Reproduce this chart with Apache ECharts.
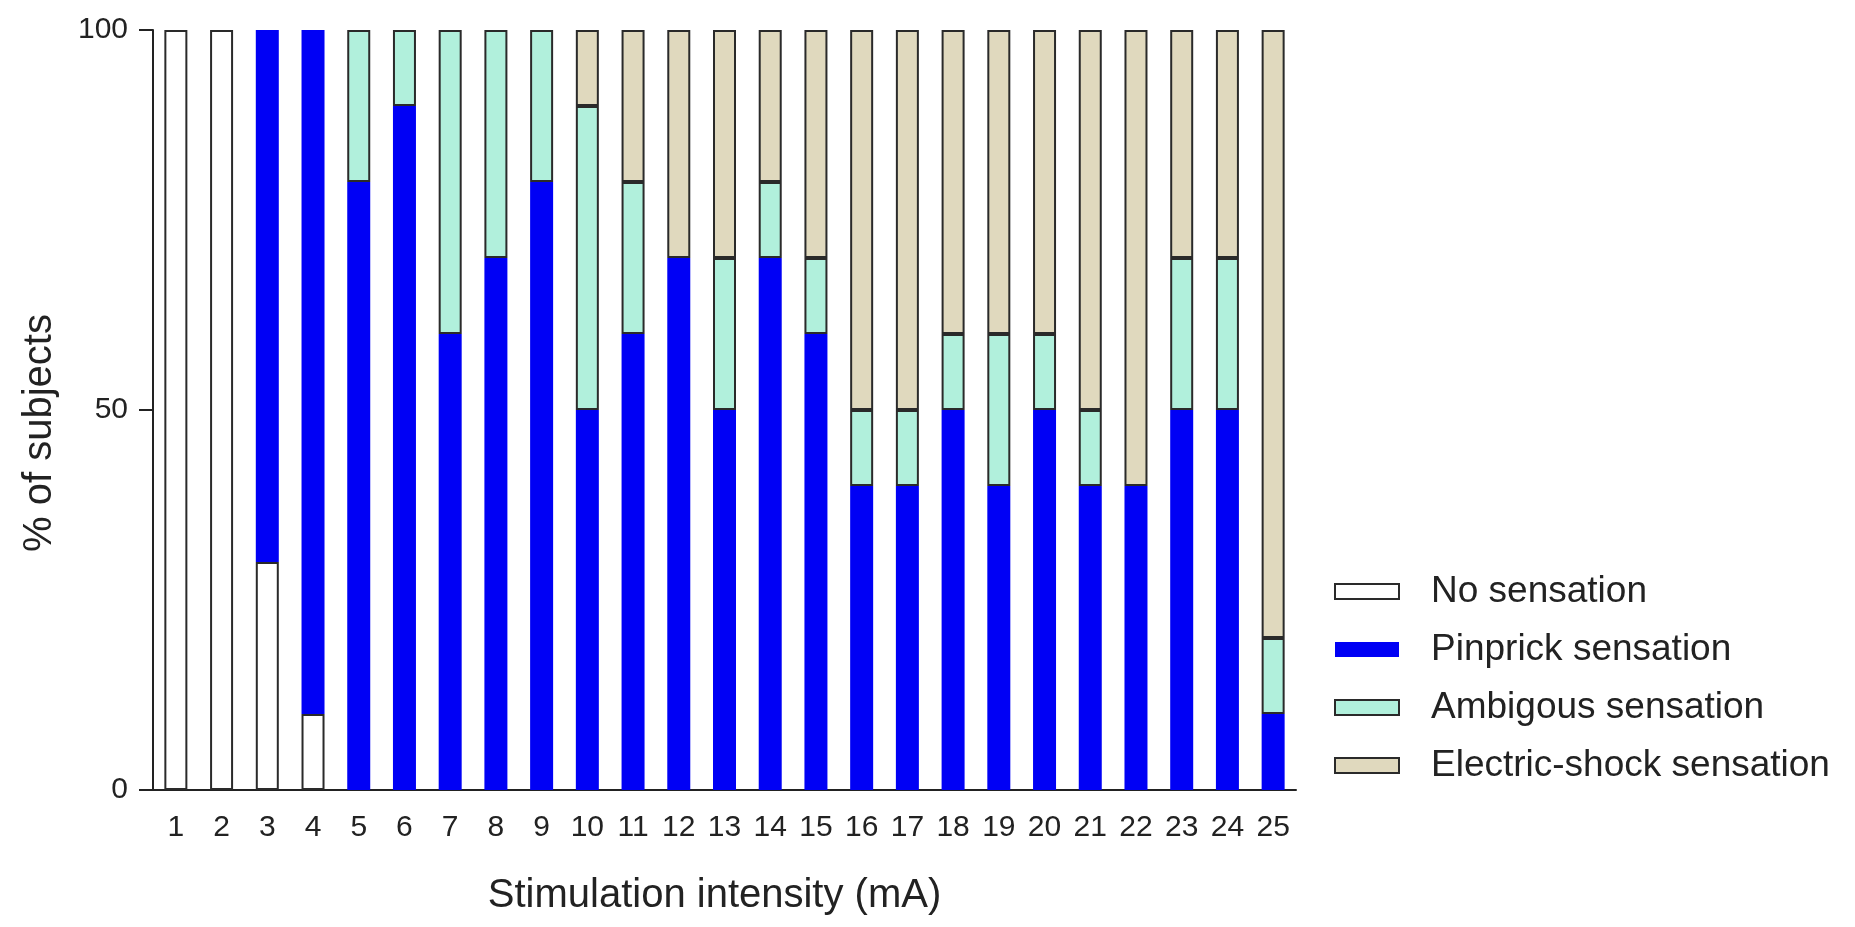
<!DOCTYPE html>
<html>
<head>
<meta charset="utf-8">
<script src="https://cdn.jsdelivr.net/npm/echarts@6/dist/echarts.min.js"></script>
<style>
  html, body { margin: 0; padding: 0; background: #fff; }
  #chart { width: 1855px; height: 927px; }
</style>
</head>
<body>
<div id="chart"></div>
<script>
const intensities = ['1','2','3','4','5','6','7','8','9','10','11','12','13','14','15','16','17','18','19','20','21','22','23','24','25'];

// % of subjects per stimulation intensity, stacked bottom to top
const noSensation = [100, 100, 30, 10, 0, 0, 0, 0, 0, 0, 0, 0, 0, 0, 0, 0, 0, 0, 0, 0, 0, 0, 0, 0, 0];
const pinprick    = [0, 0, 70, 90, 80, 90, 60, 70, 80, 50, 60, 70, 50, 70, 60, 40, 40, 50, 40, 50, 40, 40, 50, 50, 10];
const ambiguous   = [0, 0, 0, 0, 20, 10, 40, 30, 20, 40, 20, 0, 20, 10, 10, 10, 10, 10, 20, 10, 10, 0, 20, 20, 10];
const electric    = [0, 0, 0, 0, 0, 0, 0, 0, 0, 10, 20, 30, 30, 20, 30, 50, 50, 40, 40, 40, 50, 60, 30, 30, 80];

const yTicks = [0, 50, 100];

const chart = echarts.init(document.getElementById('chart'));
const font = 'Liberation Sans, Arial, sans-serif';
const ink = '#222';

// empty segments are left out so they don't leave a border line behind
function bar(name, data, color, border) {
  return {
    name: name,
    type: 'bar',
    stack: 'all',
    barWidth: 23,
    data: data.map(v => v === 0 ? '-' : v),
    itemStyle: {
      color: color,
      borderColor: border ? '#2a2a2a' : color,
      borderWidth: border ? 2 : 0
    }
  };
}

chart.setOption({
  animation: false,
  textStyle: { fontFamily: font, color: ink },
  grid: { left: 153, right: 559, top: 30, bottom: 137 },
  legend: {
    orient: 'vertical',
    left: 1329,
    top: 568,
    itemWidth: 64,
    itemHeight: 15,
    itemGap: 21,
    icon: 'rect',
    textStyle: { fontSize: 37, color: ink, fontFamily: font, padding: [0, 0, 0, 27] },
    data: ['No sensation', 'Pinprick sensation', 'Ambigous sensation', 'Electric-shock sensation']
  },
  xAxis: {
    type: 'category',
    data: intensities,
    name: 'Stimulation intensity (mA)',
    nameLocation: 'middle',
    nameGap: 86,
    nameTextStyle: { fontSize: 40, color: ink, padding: [0, 20, 0, 0] },
    axisLine: { lineStyle: { color: ink, width: 2 } },
    axisTick: { alignWithLabel: true, length: 14, lineStyle: { color: ink, width: 2 } },
    axisLabel: { fontSize: 30, color: ink, margin: 23 }
  },
  yAxis: {
    type: 'value',
    min: yTicks[0],
    max: yTicks[yTicks.length - 1],
    interval: 50,
    name: '% of subjects',
    nameLocation: 'middle',
    nameGap: 93,
    nameTextStyle: { fontSize: 40, color: ink, padding: [0, 46, 0, 0] },
    splitLine: { show: false },
    axisLine: { show: true, lineStyle: { color: ink, width: 2 } },
    axisTick: { show: true, length: 14, lineStyle: { color: ink, width: 2 } },
    axisLabel: { fontSize: 30, color: ink, margin: 25 }
  },
  series: [
    bar('No sensation', noSensation, '#ffffff', true),
    bar('Pinprick sensation', pinprick, '#0000f5', false),
    bar('Ambigous sensation', ambiguous, '#b1f0dc', true),
    bar('Electric-shock sensation', electric, '#e0d9be', true)
  ]
});
</script>
</body>
</html>
